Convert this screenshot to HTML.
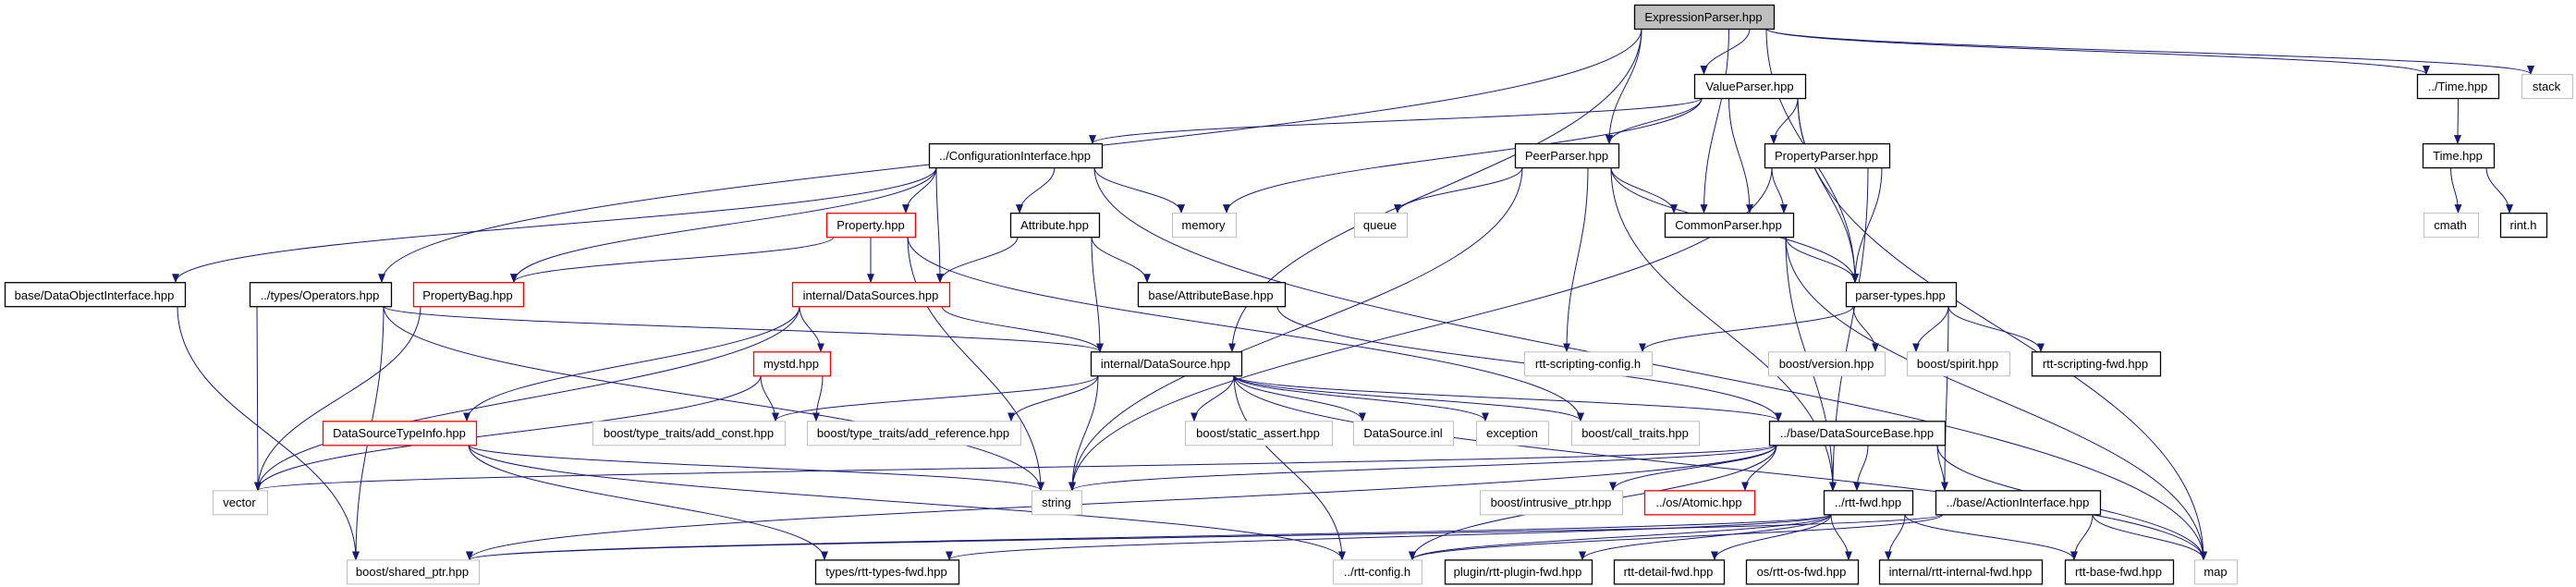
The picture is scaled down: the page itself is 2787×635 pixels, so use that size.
<!DOCTYPE html>
<html><head><meta charset="utf-8"><style>
html,body{margin:0;padding:0;background:#fff;}
svg{display:block;}
text{font-family:"Liberation Sans",sans-serif;font-size:13px;fill:#000;}
</style></head><body>
<svg id="g" width="2787" height="635" viewBox="0 0 2787 635" xmlns="http://www.w3.org/2000/svg">
<defs><marker id="a" markerWidth="10" markerHeight="8" refX="9" refY="4" orient="auto" markerUnits="userSpaceOnUse"><path d="M0,0 L10,4 L0,8 z" fill="#191970"/></marker></defs>
<g id="edges" fill="none" stroke="#191970" stroke-width="1"></g>
<g id="nodes"></g>
<g id="labels" text-anchor="middle">
<text x="1843" y="23">ExpressionParser.hpp</text>
<text x="1893" y="98">ValueParser.hpp</text>
<text x="2659" y="98">../Time.hpp</text>
<text x="2755" y="98" fill="#000">stack</text>
<text x="1098" y="173">../ConfigurationInterface.hpp</text>
<text x="1695" y="173">PeerParser.hpp</text>
<text x="1976" y="173">PropertyParser.hpp</text>
<text x="2659" y="173">Time.hpp</text>
<text x="942" y="248">Property.hpp</text>
<text x="1141" y="248">Attribute.hpp</text>
<text x="1302" y="248">memory</text>
<text x="1493" y="248">queue</text>
<text x="1870" y="248">CommonParser.hpp</text>
<text x="2651" y="248">cmath</text>
<text x="2730" y="248">rint.h</text>
<text x="102" y="324">base/DataObjectInterface.hpp</text>
<text x="346" y="324">../types/Operators.hpp</text>
<text x="506" y="324">PropertyBag.hpp</text>
<text x="942" y="324">internal/DataSources.hpp</text>
<text x="1310" y="324">base/AttributeBase.hpp</text>
<text x="2056" y="324">parser-types.hpp</text>
<text x="856" y="398">mystd.hpp</text>
<text x="1261" y="398">internal/DataSource.hpp</text>
<text x="1718" y="398">rtt-scripting-config.h</text>
<text x="1976" y="398">boost/version.hpp</text>
<text x="2118" y="398">boost/spirit.hpp</text>
<text x="2267" y="398">rtt-scripting-fwd.hpp</text>
<text x="432" y="473">DataSourceTypeInfo.hpp</text>
<text x="745" y="473">boost/type_traits/add_const.hpp</text>
<text x="988" y="473">boost/type_traits/add_reference.hpp</text>
<text x="1361" y="473">boost/static_assert.hpp</text>
<text x="1518" y="473">DataSource.inl</text>
<text x="1636" y="473">exception</text>
<text x="1769" y="473">boost/call_traits.hpp</text>
<text x="2009" y="473">../base/DataSourceBase.hpp</text>
<text x="259" y="548">vector</text>
<text x="1143" y="548">string</text>
<text x="1678" y="548">boost/intrusive_ptr.hpp</text>
<text x="1838" y="548">../os/Atomic.hpp</text>
<text x="2021" y="548">../rtt-fwd.hpp</text>
<text x="2183" y="548">../base/ActionInterface.hpp</text>
<text x="446" y="623">boost/shared_ptr.hpp</text>
<text x="959" y="623">types/rtt-types-fwd.hpp</text>
<text x="1490" y="623">../rtt-config.h</text>
<text x="1642" y="623">plugin/rtt-plugin-fwd.hpp</text>
<text x="1805" y="623">rtt-detail-fwd.hpp</text>
<text x="1949" y="623">os/rtt-os-fwd.hpp</text>
<text x="2121" y="623">internal/rtt-internal-fwd.hpp</text>
<text x="2292" y="623">rtt-base-fwd.hpp</text>
<text x="2397" y="623">map</text>
</g>
</svg>
<script>
var N={
EP:[1768,1919,0,'e'],VP:[1833,1953,1,'b'],TIME1:[2615,2703,1,'b'],STACK:[2728,2783,1,'g'],
CI:[1005,1192,2,'b'],PP:[1639,1751,2,'b'],PRP:[1909,2044,2,'b'],TIME:[2621,2698,2,'b'],
PROP:[894,990,3,'r'],ATTR:[1093,1189,3,'b'],MEM:[1268,1337,3,'g'],QUEUE:[1465,1522,3,'g'],CP:[1801,1940,3,'b'],CMATH:[2622,2681,3,'g'],RINT:[2705,2755,3,'b'],
DOI:[5,200,4,'b'],OPS:[270,423,4,'b'],PB:[447,566,4,'r'],DSS:[857,1027,4,'r'],AB:[1231,1390,4,'b'],PT:[1997,2116,4,'b'],
MYSTD:[815,898,5,'r'],DS:[1180,1343,5,'b'],RSC:[1649,1787,5,'g'],BV:[1913,2039,5,'g'],BS:[2063,2174,5,'g'],RSF:[2198,2337,5,'b'],
DSTI:[349,515,6,'r'],ADDC:[641,849,6,'g'],ADDR:[873,1104,6,'g'],SA:[1282,1441,6,'g'],INL:[1464,1572,6,'g'],EXC:[1597,1675,6,'g'],CT:[1700,1838,6,'g'],DSB:[1914,2104,6,'b'],
VEC:[230,289,7,'g'],STR:[1116,1170,7,'g'],IP:[1601,1755,7,'g'],ATOM:[1779,1898,7,'r'],FWD:[1973,2069,7,'b'],AI:[2094,2272,7,'b'],
SP:[375,518,8,'g'],TF:[882,1037,8,'b'],CFG:[1442,1538,8,'g'],PLF:[1563,1722,8,'b'],DF:[1746,1865,8,'b'],OSF:[1889,2010,8,'b'],IF:[2033,2209,8,'b'],BF:[2234,2351,8,'b'],MAP:[2374,2420,8,'g']};
function yc(r){return 18+75.05*r;}
var E=[
'EP VP','EP PP','EP CP','EP PT','EP DS','EP OPS','EP TIME1','EP STACK',
'VP CI','VP PP','VP MEM','VP CP','VP PRP','VP PT','VP MAP',
'CI DOI','CI PB','CI PROP','CI DSS','CI ATTR','CI MEM','CI MAP',
'PP QUEUE','PP CP','PP PT','PP RSC','PP STR','PP FWD',
'PRP CP','PRP PT','PRP FWD','PRP STR',
'CP PT','CP FWD','CP MAP',
'TIME1 TIME','TIME CMATH','TIME RINT',
'PT RSC','PT BV','PT BS','PT RSF','PT AI',
'PROP DSS','PROP PB','PROP STR','PROP CT',
'ATTR DSS','ATTR DS','ATTR AB','AB DSB',
'DSS DS','DSS MYSTD','DSS DSTI','DSS VEC',
'MYSTD ADDC','MYSTD ADDR','MYSTD VEC',
'OPS VEC','OPS SP','OPS STR','OPS DS','DOI SP','PB VEC',
'DS ADDC','DS ADDR','DS SA','DS INL','DS EXC','DS CT','DS STR','DS CFG','DS DSB','DS MAP',
'DSTI STR','DSTI TF','DSTI CFG',
'DSB VEC','DSB STR','DSB IP','DSB ATOM','DSB FWD','DSB AI','DSB MAP','DSB SP','DSB CFG',
'FWD TF','FWD CFG','FWD PLF','FWD DF','FWD OSF','FWD IF','FWD BF','FWD SP',
'AI BF','AI MAP','AI CFG','AI SP'];
var ns='http://www.w3.org/2000/svg',ge=document.getElementById('edges'),gn=document.getElementById('nodes');
function cl(v,a,b){return Math.max(a,Math.min(b,v));}
E.forEach(function(s){var p=s.split(' '),A=N[p[0]],B=N[p[1]];
 var tcx=(B[0]+B[1])/2,scx=(A[0]+A[1])/2;
 var sx=cl(tcx,A[0]+8,A[1]-8),sy=yc(A[2])+13;
 var tx=cl(scx,B[0]+10,B[1]-10),ty=yc(B[2])-13;
 if(B[2]==A[2]){sy=yc(A[2]);}
 var dy=ty-sy,d='M'+sx+','+sy+' C'+sx+','+(sy+dy*0.45)+' '+tx+','+(ty-dy*0.45)+' '+tx+','+ty;
 var e=document.createElementNS(ns,'path');e.setAttribute('d',d);e.setAttribute('marker-end','url(#a)');ge.appendChild(e);});
for(var k in N){var n=N[k],r=document.createElementNS(ns,'rect');
 r.setAttribute('x',n[0]+0.5);r.setAttribute('y',yc(n[2])-13+0.5);r.setAttribute('width',n[1]-n[0]);r.setAttribute('height',26);
 var c={e:'#000',b:'#000',g:'#bfbfbf',r:'#ff0000'}[n[3]];
 r.setAttribute('fill',n[3]=='e'?'#bfbfbf':'#fff');r.setAttribute('stroke',c);r.setAttribute('stroke-width',n[3]=='g'?1:1.3);gn.appendChild(r);}
document.querySelectorAll('#labels text').forEach(function(t){var w=t.getComputedTextLength();
 var x=+t.getAttribute('x'),best=null;for(var k in N){var n=N[k];if(x>n[0]&&x<n[1]&&Math.abs(yc(n[2])+5-t.getAttribute('y'))<3)best=n;}
 if(best){var m=best[1]-best[0]-18;if(w>m){t.setAttribute('textLength',m);t.setAttribute('lengthAdjust','spacingAndGlyphs');}}});
</script>
</body></html>
